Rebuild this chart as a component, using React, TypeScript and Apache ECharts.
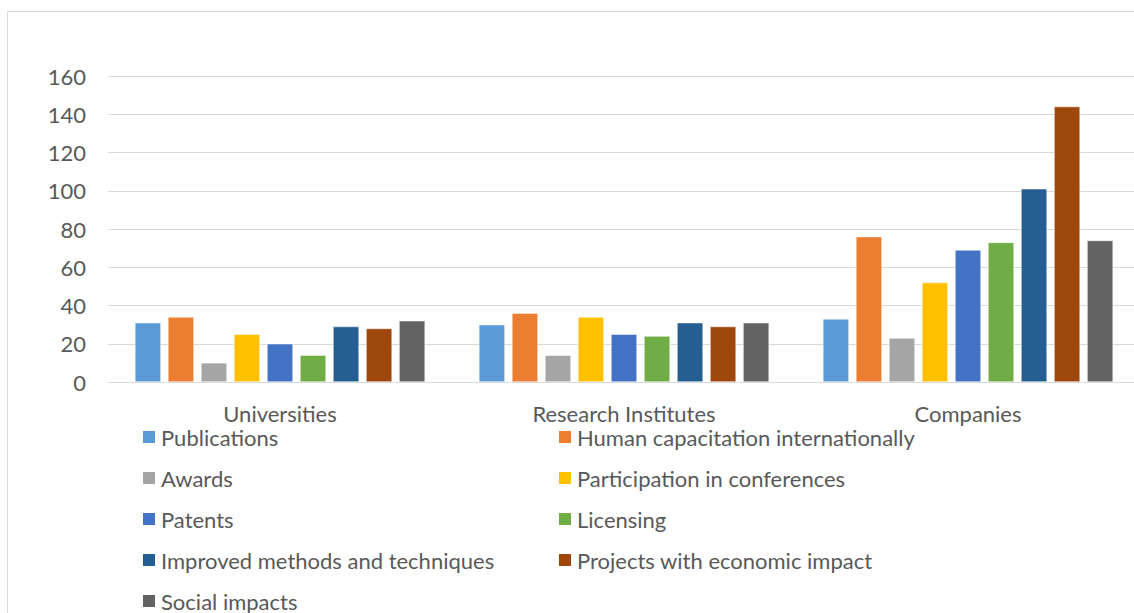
import React, { useEffect, useRef } from "react";
import * as echarts from "echarts";

const categories = ["Universities", "Research Institutes", "Companies"];
const seriesNames = [
  "Publications",
  "Human capacitation internationally",
  "Awards",
  "Participation in conferences",
  "Patents",
  "Licensing",
  "Improved methods and techniques",
  "Projects with economic impact",
  "Social impacts",
];
const publications = [31, 30, 33];
const humanCapacitation = [34, 36, 76];
const awards = [10, 14, 23];
const participation = [25, 34, 52];
const patents = [20, 25, 69];
const licensing = [14, 24, 73];
const improvedMethods = [29, 31, 101];
const projectsEconomic = [28, 29, 144];
const socialImpacts = [32, 31, 74];
const colors = ["#5B9BD5", "#ED7D31", "#A5A5A5", "#FFC000", "#4472C4", "#70AD47", "#255E91", "#9E480E", "#636363"];
const leftLegend = [seriesNames[0], seriesNames[2], seriesNames[4], seriesNames[6], seriesNames[8]];
const rightLegend = [seriesNames[1], seriesNames[3], seriesNames[5], seriesNames[7]];

export default function App() {
  const ref = useRef<HTMLDivElement>(null);
  useEffect(() => {
    const chart = echarts.init(ref.current!, null, { renderer: "svg" });
    const values = [publications, humanCapacitation, awards, participation, patents, licensing, improvedMethods, projectsEconomic, socialImpacts];
    const font = "Lato, 'Open Sans', sans-serif";
    const legendCommon = {
      orient: "vertical" as const,
      top: 426,
      height: 240,
      padding: 0,
      itemWidth: 14,
      itemHeight: 14,
      itemGap: 19,
      icon: "rect",
      textStyle: { color: "#595959", fontSize: 22, fontFamily: font, lineHeight: 20 },
    };
    chart.setOption({
      animation: false,
      color: colors,
      graphic: [
        {
          type: "rect",
          shape: { x: 7.5, y: 11.5, width: 1140, height: 620 },
          style: { fill: "none", stroke: "#d9d9d9", lineWidth: 1 },
        },
      ],
      grid: { left: 108, top: 76, width: 1032, height: 306, containLabel: false, outerBoundsMode: "none" },
      legend: [
        { ...legendCommon, left: 141, data: leftLegend },
        { ...legendCommon, left: 557, data: rightLegend },
      ],
      xAxis: {
        type: "category",
        data: categories,
        axisLine: { lineStyle: { color: "#d9d9d9", width: 1 } },
        axisTick: { show: false },
        axisLabel: { color: "#595959", fontSize: 22, fontFamily: font, margin: 20 },
      },
      yAxis: {
        type: "value",
        min: 0,
        max: 160,
        interval: 20,
        axisLine: { show: false },
        axisTick: { show: false },
        splitLine: { lineStyle: { color: "#d9d9d9", width: 1 } },
        axisLabel: { color: "#595959", fontSize: 22, fontFamily: font, margin: 22 },
      },
      series: seriesNames.map((name, i) => ({
        name,
        type: "bar",
        data: values[i],
        barWidth: 26,
        barGap: "27%",
        itemStyle: { color: colors[i], borderColor: "#ffffff", borderWidth: 0.5 },
      })),
    });
    return () => chart.dispose();
  }, []);
  return (
    <div style={{ position: "absolute", left: 0, top: 0, width: 1134, height: 613, overflow: "hidden", background: "#fff" }}>
      <div ref={ref} style={{ width: 1134, height: 613 }} />
    </div>
  );
}
